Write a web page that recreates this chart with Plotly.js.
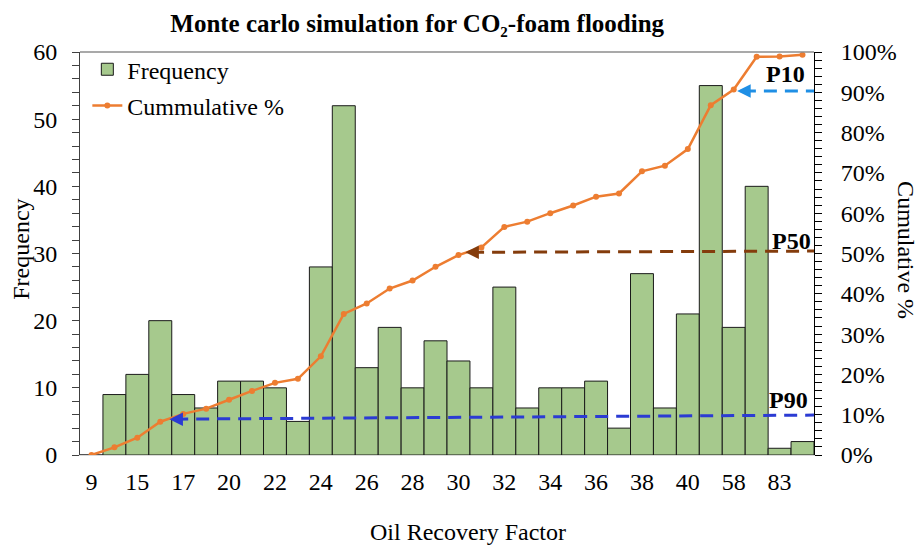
<!DOCTYPE html>
<html>
<head>
<meta charset="utf-8">
<script src="https://cdn.plot.ly/plotly-3.0.1.min.js"></script>
<style>html,body{margin:0;padding:0;background:#fff;}#chart{width:921px;height:545px;}</style>
</head>
<body>
<div id="chart"></div>
<script>
// Tick labels (every other bin is labelled)
const binLabels = ['9','15','17','20','22','24','26','28','30','32','34','36','38','40','58','83'];
// Frequency per bin
const frequency = [0,9,12,20,9,7,11,11,10,5,28,52,13,19,10,17,14,10,25,7,10,10,11,4,27,7,21,55,19,40,1,2];
// Cumulative percentage per bin
const cumulativePct = [0,1.9,4.3,8.25,10.2,11.5,13.7,15.9,17.9,18.9,24.5,35.0,37.6,41.3,43.3,46.7,49.6,51.5,56.6,57.9,60.0,61.9,64.1,64.9,70.4,71.8,75.9,86.8,90.7,98.8,98.9,99.3];
// Percentile markers
const pNames = ['P10','P50','P90'];
const pArrowTipBin = [28.15, 16.3, 3.4];
const pLeftPct = [90.3, 50.3, 8.9];
const pRightPct = [90.3, 50.6, 9.9];
const pColors = ['#1F8FE5','#843C0C','#2B3BD3'];

const FONT = 'Liberation Serif, Times New Roman, serif';
const binIndex = frequency.map((_, i) => i);
const tickIdx = binLabels.map((_, i) => i * 2);
const xEnd = frequency.length - 0.5;

const traces = [
  {
    type: 'bar', name: 'Frequency', x: binIndex, y: frequency, width: 1,
    marker: {color: '#A6C98D', line: {color: '#1a1a1a', width: 1}},
    xaxis: 'x', yaxis: 'y', legendgroup: 'a'
  },
  {
    type: 'scatter', mode: 'lines+markers', name: 'Cummulative %', x: binIndex, y: cumulativePct,
    line: {color: '#ED7D31', width: 2.5}, marker: {color: '#ED7D31', size: 6},
    xaxis: 'x', yaxis: 'y2', legendgroup: 'b'
  }
];
pNames.forEach((n, i) => {
  traces.push({
    type: 'scatter', mode: 'lines', x: [pArrowTipBin[i] + 0.25, xEnd], y: [pLeftPct[i], pRightPct[i]],
    line: {color: pColors[i], width: 3, dash: '13px,8px'}, showlegend: false,
    xaxis: 'x', yaxis: 'y2', hoverinfo: 'skip'
  });
});

const annotations = [
  {text: 'Oil Recovery Factor', xref: 'paper', yref: 'paper', x: 0.529, y: -0.19, showarrow: false,
   font: {family: FONT, size: 24, color: '#000'}, xanchor: 'center', yanchor: 'middle'},
  {text: 'Cumulative %', xref: 'paper', yref: 'paper', x: 1.125, y: 0.509, showarrow: false, textangle: 90,
   font: {family: FONT, size: 24, color: '#000'}, xanchor: 'center', yanchor: 'middle'},
  {text: 'Frequency', xref: 'paper', yref: 'paper', x: -0.08, y: 0.51, showarrow: false, textangle: -90,
   font: {family: FONT, size: 24, color: '#000'}, xanchor: 'center', yanchor: 'middle'}
];
const pLabelBin = [30.24, 30.5, 30.37];
const pLabelPct = [94.5, 53.2, 13.7];
pNames.forEach((n, i) => {
  annotations.push({text: '<b>' + n + '</b>', xref: 'x', yref: 'y2', x: pLabelBin[i], y: pLabelPct[i],
    showarrow: false, font: {family: FONT, size: 24, color: '#000'}, xanchor: 'center', yanchor: 'middle'});
  annotations.push({text: '', xref: 'x', yref: 'y2', axref: 'x', ayref: 'y2',
    x: pArrowTipBin[i], y: pLeftPct[i], ax: pArrowTipBin[i] + 0.45, ay: pLeftPct[i],
    showarrow: true, arrowhead: 2, arrowsize: 0.9, arrowwidth: 3, arrowcolor: pColors[i], standoff: 0});
});

const layout = {
  width: 921, height: 545,
  margin: {l: 80, r: 107, t: 52, b: 90, pad: 0},
  paper_bgcolor: '#fff', plot_bgcolor: '#fff',
  font: {family: FONT, size: 24, color: '#000'},
  title: {text: '<b>Monte carlo simulation for CO₂-foam flooding</b>', font: {family: FONT, size: 25, color: '#000'},
          x: 0.453, xref: 'container', xanchor: 'center', y: 0.958, yref: 'container', yanchor: 'middle'},
  bargap: 0,
  showlegend: true,
  legend: {x: 0.01, y: 1.012, xanchor: 'left', yanchor: 'top', bgcolor: 'rgba(0,0,0,0)',
           font: {family: FONT, size: 24, color: '#000'}, tracegroupgap: 2, traceorder: 'grouped'},
  xaxis: {range: [-0.5, xEnd], tickmode: 'array', tickvals: tickIdx, ticktext: binLabels, ticks: '',
          showline: true, linecolor: '#d9d9d9', linewidth: 1, showgrid: false, zeroline: false,
          tickfont: {family: FONT, size: 24, color: '#000'}, ticklabelstandoff: 5},
  yaxis: {range: [0, 60], dtick: 10, ticks: 'outside', ticklen: 7, tickcolor: '#404040', tickwidth: 1,
          minor: {dtick: 2, ticks: 'outside', ticklen: 7, tickcolor: '#404040', tickwidth: 1, showgrid: false},
          showline: true, linecolor: '#404040', linewidth: 1, showgrid: false, zeroline: false,
          tickfont: {family: FONT, size: 24, color: '#000'}, ticklabelstandoff: 10},
  yaxis2: {range: [0, 100], dtick: 10, ticksuffix: '%', overlaying: 'y', side: 'right',
          ticks: 'outside', ticklen: 7, tickcolor: '#000', tickwidth: 1,
          minor: {dtick: 2, ticks: 'outside', ticklen: 7, tickcolor: '#000', tickwidth: 1, showgrid: false},
          showline: true, linecolor: '#000', linewidth: 1, showgrid: false, zeroline: false,
          tickfont: {family: FONT, size: 24, color: '#000'}, ticklabelstandoff: 14},
  shapes: [{type: 'line', xref: 'paper', yref: 'paper', x0: 0, x1: 1, y0: 1, y1: 1,
            line: {color: '#8c8c8c', width: 1.5}}],
  annotations: annotations
};

Plotly.newPlot('chart', traces, layout, {displayModeBar: false, staticPlot: true});
</script>
</body>
</html>
